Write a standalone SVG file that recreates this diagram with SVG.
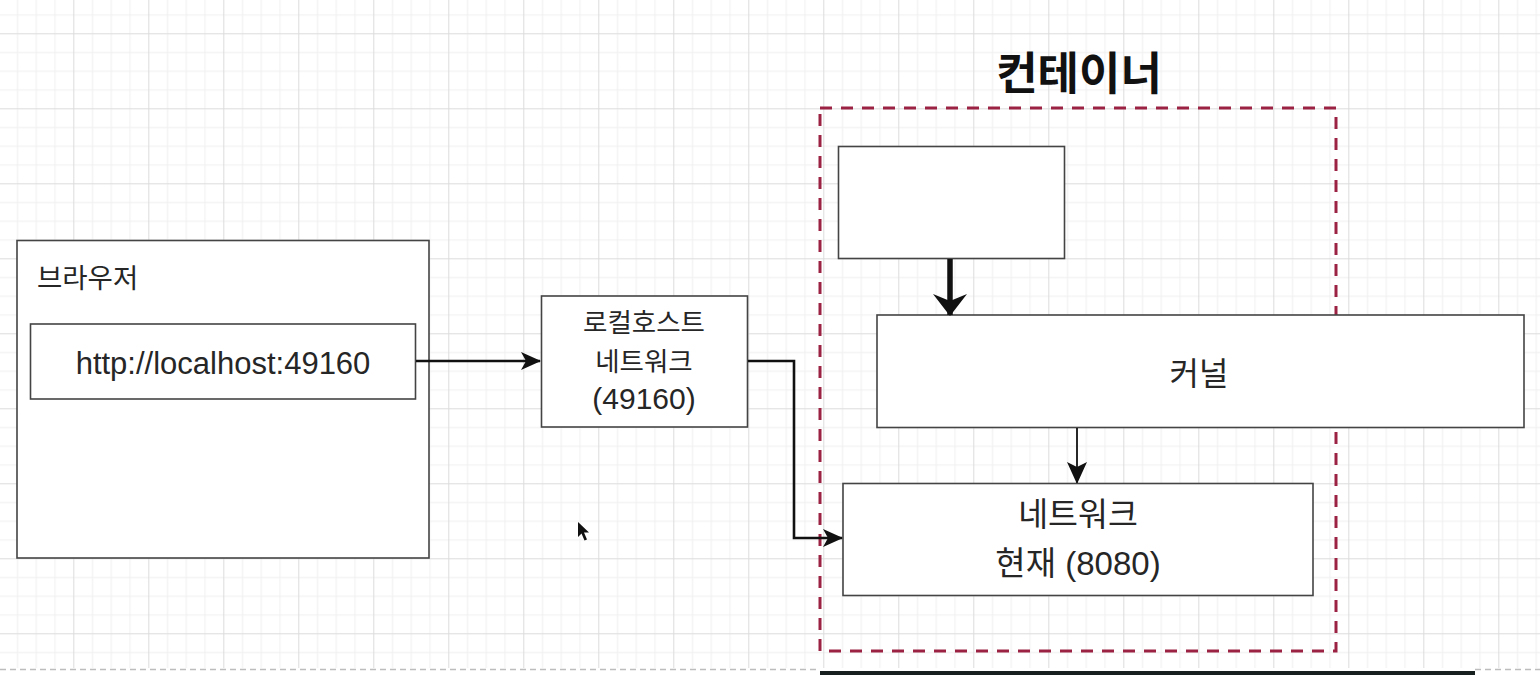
<svg xmlns="http://www.w3.org/2000/svg" width="1540" height="675" viewBox="0 0 1540 675">
<defs>
<style>
.box{fill:#ffffff;stroke:#444444;stroke-width:1.6}
.lbl{font-family:"Liberation Sans","Noto Sans CJK KR",sans-serif;fill:#262626}
.kr{font-family:"Noto Sans CJK KR","Liberation Sans",sans-serif;fill:#262626}
.conn{fill:none;stroke:#111111;stroke-width:2.6}
</style>
<pattern id="grid" width="75" height="75" patternUnits="userSpaceOnUse" x="-1.7" y="33.3">
<path d="M19.25,0V75M38,0V75M56.75,0V75M0,19.25H75M0,38H75M0,56.75H75" stroke="#efefef" stroke-width="1" fill="none"/>
<path d="M0.5,0V75M0,0.5H75" stroke="#dcdcdc" stroke-width="1" fill="none"/>
</pattern>
<marker id="arr" viewBox="0 0 20 20" refX="19" refY="10" markerWidth="20" markerHeight="20" orient="auto" markerUnits="userSpaceOnUse">
<path d="M0,1 L20,10 L0,19 L5,10 Z" fill="#111111"/>
</marker>
<marker id="arrThin" viewBox="0 0 20 22" refX="21" refY="10" markerWidth="20" markerHeight="22" orient="auto" markerUnits="userSpaceOnUse">
<path d="M0,0 L22,10 L0,20 L5,10 Z" fill="#111111"/>
</marker>
<marker id="arrBig" viewBox="0 0 22 34" refX="21" refY="17" markerWidth="22" markerHeight="34" orient="auto" markerUnits="userSpaceOnUse">
<path d="M0,0 L22,17 L0,34 L7,17 Z" fill="#111111"/>
</marker>
</defs>

<rect x="0" y="0" width="1540" height="675" fill="#ffffff"/>
<rect x="0" y="0" width="1540" height="668" fill="url(#grid)"/>

<!-- page border and bottom bar -->
<path d="M0,669.5H820M1475,669.5H1540" stroke="#bdbdbd" stroke-width="1.5" stroke-dasharray="6 4" fill="none"/>
<rect x="820" y="671" width="655" height="4" fill="#17201f"/>

<!-- container -->
<g id="container">
<rect x="820" y="108" width="516" height="543" fill="none" stroke="#9b2242" stroke-width="3" stroke-dasharray="12 9"/>
<text x="1079" y="90" text-anchor="middle" font-family="Noto Sans CJK KR, sans-serif" font-size="45" font-weight="bold" fill="#111111">컨테이너</text>
</g>

<g id="browser">
<rect class="box" x="17" y="240.5" width="412" height="317.5"/>
<text class="kr" x="37" y="288" font-size="27.5">브라우저</text>
</g>

<g id="url">
<rect class="box" x="30.5" y="324" width="385" height="75"/>
<text class="lbl" x="223" y="374" text-anchor="middle" font-size="31">http://localhost:49160</text>
</g>

<g id="localnet">
<rect class="box" x="541.5" y="296" width="206" height="131"/>
<text class="kr" text-anchor="middle" font-size="26.5"><tspan x="644" y="332">로컬호스트</tspan><tspan x="644" y="371">네트워크</tspan><tspan x="644" y="409" font-family="Liberation Sans, sans-serif" font-size="30">(49160)</tspan></text>
</g>

<g id="topbox">
<rect class="box" x="838.5" y="146.5" width="226" height="112"/>
</g>

<g id="kernel">
<rect class="box" x="877" y="315" width="647" height="112.5"/>
<text class="kr" x="1199" y="385" text-anchor="middle" font-size="32">커널</text>
</g>

<g id="network">
<rect class="box" x="843" y="483.5" width="470" height="112"/>
<text class="lbl" text-anchor="middle" font-size="33"><tspan x="1078" y="526" font-family="Noto Sans CJK KR, sans-serif" font-size="32.5">네트워크</tspan><tspan x="1078" y="575">현재 (8080)</tspan></text>
</g>

<g id="connectors">
<path class="conn" d="M416,361H540" marker-end="url(#arr)"/>
<path class="conn" d="M748,361H794V538H842" marker-end="url(#arr)"/>
<path class="conn" d="M950,259V315" style="stroke-width:5.5" marker-end="url(#arrBig)"/>
<path class="conn" d="M1077,428V483" style="stroke-width:1.8" marker-end="url(#arrThin)"/>
</g>

<!-- mouse pointer -->
<path d="M578,522L578,537L581.5,533.5L584.5,540.5L587,539.5L584,532.5L589,532.5Z" fill="#111111"/>
</svg>
